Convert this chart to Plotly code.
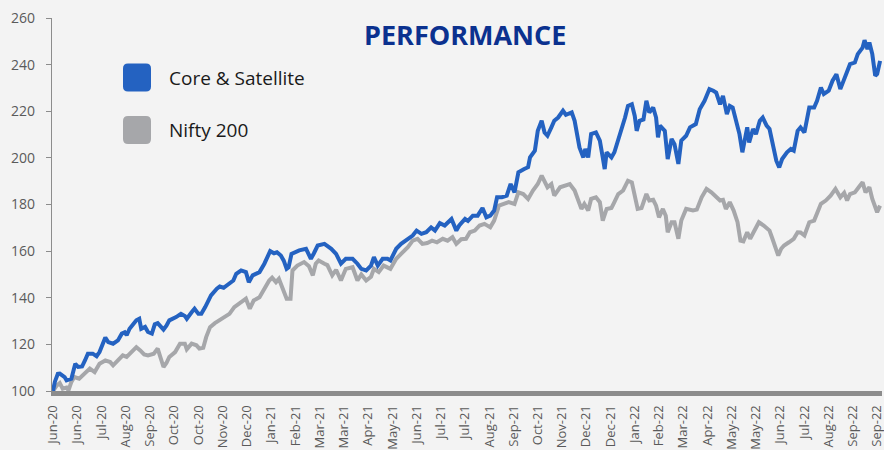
import plotly.graph_objects as go

# ---------------- data ----------------
core_dates = [
    "2020-06-01", "2020-06-03", "2020-06-06", "2020-06-08", "2020-06-13", "2020-06-15", "2020-06-20",
    "2020-06-22", "2020-06-24", "2020-06-27", "2020-07-01", "2020-07-04", "2020-07-07", "2020-07-12",
    "2020-07-16", "2020-07-19", "2020-07-23", "2020-07-25", "2020-07-28", "2020-08-02", "2020-08-07",
    "2020-08-11", "2020-08-14", "2020-08-16", "2020-08-19", "2020-08-26", "2020-08-29", "2020-08-31",
    "2020-09-04", "2020-09-07", "2020-09-11", "2020-09-14", "2020-09-17", "2020-09-23", "2020-09-26",
    "2020-09-29", "2020-10-06", "2020-10-11", "2020-10-15", "2020-10-17", "2020-10-22", "2020-10-25",
    "2020-10-29", "2020-11-01", "2020-11-05", "2020-11-08", "2020-11-11", "2020-11-17", "2020-11-20",
    "2020-11-24", "2020-11-27", "2020-12-04", "2020-12-07", "2020-12-12", "2020-12-17", "2020-12-20",
    "2020-12-24", "2020-12-31", "2021-01-05", "2021-01-08", "2021-01-11", "2021-01-15", "2021-01-18",
    "2021-01-22", "2021-01-25", "2021-01-28", "2021-01-30", "2021-02-02", "2021-02-10", "2021-02-17",
    "2021-02-22", "2021-02-25", "2021-03-01", "2021-03-08", "2021-03-15", "2021-03-20", "2021-03-25",
    "2021-03-30", "2021-04-06", "2021-04-11", "2021-04-15", "2021-04-20", "2021-04-25", "2021-04-28",
    "2021-05-02", "2021-05-07", "2021-05-12", "2021-05-15", "2021-05-21", "2021-05-26", "2021-05-31",
    "2021-06-07", "2021-06-11", "2021-06-16", "2021-06-21", "2021-06-26", "2021-06-30", "2021-07-05",
    "2021-07-10", "2021-07-17", "2021-07-22", "2021-07-25", "2021-07-31", "2021-08-03", "2021-08-08",
    "2021-08-13", "2021-08-18", "2021-08-22", "2021-08-26", "2021-08-30", "2021-09-02", "2021-09-07",
    "2021-09-12", "2021-09-16", "2021-09-20", "2021-09-24", "2021-09-30", "2021-10-04", "2021-10-06",
    "2021-10-11", "2021-10-14", "2021-10-18", "2021-10-21", "2021-10-24", "2021-10-28", "2021-10-31",
    "2021-11-04", "2021-11-09", "2021-11-12", "2021-11-18", "2021-11-21", "2021-11-23", "2021-11-26",
    "2021-11-30", "2021-12-02", "2021-12-05", "2021-12-08", "2021-12-13", "2021-12-17", "2021-12-20",
    "2021-12-22", "2021-12-24", "2021-12-29", "2022-01-01", "2022-01-05", "2022-01-08", "2022-01-12",
    "2022-01-15", "2022-01-19", "2022-01-22", "2022-01-24", "2022-01-27", "2022-01-31", "2022-02-03",
    "2022-02-06", "2022-02-10", "2022-02-13", "2022-02-15", "2022-02-17", "2022-02-22", "2022-02-25",
    "2022-03-01", "2022-03-04", "2022-03-08", "2022-03-11", "2022-03-16", "2022-03-20", "2022-03-26",
    "2022-03-30", "2022-04-04", "2022-04-09", "2022-04-13", "2022-04-16", "2022-04-20", "2022-04-23",
    "2022-04-27", "2022-04-30", "2022-05-03", "2022-05-07", "2022-05-10", "2022-05-13", "2022-05-15",
    "2022-05-18", "2022-05-20", "2022-05-24", "2022-05-27", "2022-05-31", "2022-06-03", "2022-06-07",
    "2022-06-10", "2022-06-13", "2022-06-17", "2022-06-20", "2022-06-23", "2022-06-28", "2022-07-02",
    "2022-07-05", "2022-07-09", "2022-07-12", "2022-07-16", "2022-07-21", "2022-07-26", "2022-07-29",
    "2022-08-02", "2022-08-05", "2022-08-10", "2022-08-14", "2022-08-18", "2022-08-22", "2022-08-28",
    "2022-09-01", "2022-09-06", "2022-09-09", "2022-09-14", "2022-09-16", "2022-09-19", "2022-09-21",
    "2022-09-24", "2022-09-27", "2022-09-29", "2022-10-02",
]
core_values = [
    100.0, 104.0, 107.4, 107.5, 106.0, 104.6, 105.3,
    108.9, 111.7, 110.3, 110.5, 113.1, 116.0, 116.0,
    114.9, 116.7, 121.7, 122.9, 121.0, 120.3, 121.7,
    124.6, 125.2, 123.9, 126.7, 130.3, 131.0, 126.7,
    127.5, 125.3, 124.6, 128.6, 129.1, 126.3, 128.0,
    130.3, 131.7, 133.1, 132.2, 131.0, 133.8, 135.3,
    133.1, 133.1, 136.0, 138.8, 141.0, 143.9, 144.8,
    144.3, 145.3, 147.4, 150.3, 151.7, 151.0, 146.7,
    149.6, 151.0, 154.6, 157.4, 160.0, 159.1, 159.5,
    158.1, 155.9, 152.4, 153.0, 158.8, 160.3, 161.0,
    156.7, 159.0, 162.4, 163.1, 161.0, 158.8, 154.6,
    156.7, 156.7, 154.6, 152.4, 151.7, 153.8, 157.4,
    153.8, 156.7, 156.7, 156.0, 161.0, 163.1, 164.5,
    166.7, 168.8, 167.4, 168.1, 170.2, 168.8, 172.0,
    171.0, 173.8, 168.8, 171.0, 173.8, 173.0, 175.2,
    175.2, 178.5, 174.5, 175.2, 177.4, 183.1, 183.1,
    183.8, 188.8, 185.2, 193.8, 195.2, 196.0, 200.2,
    203.1, 211.6, 215.9, 210.9, 209.5, 213.1, 215.9,
    217.3, 220.2, 218.5, 219.5, 215.9, 210.2, 204.5,
    200.2, 203.8, 200.2, 210.2, 210.9, 207.4, 200.2,
    195.2, 202.4, 200.2, 202.4, 207.4, 212.4, 217.3,
    222.3, 223.0, 218.0, 211.6, 215.9, 216.5, 224.5,
    219.5, 221.6, 217.3, 208.8, 213.8, 211.6, 199.5,
    208.1, 205.9, 197.4, 207.4, 209.5, 213.1, 214.5,
    220.9, 224.5, 229.5, 228.8, 228.0, 223.0, 226.6,
    218.8, 222.3, 221.6, 214.5, 210.2, 202.4, 206.6,
    213.1, 206.6, 212.4, 210.2, 215.9, 217.3, 213.8,
    212.4, 205.9, 198.8, 195.9, 199.5, 202.4, 203.8,
    203.1, 211.6, 213.1, 210.9, 221.6, 221.6, 224.5,
    230.2, 227.4, 228.8, 233.1, 235.9, 229.5, 236.6,
    240.2, 240.9, 244.5, 247.3, 250.5, 246.6, 249.5,
    244.5, 235.2, 236.0, 241.6,
]

nifty_dates = [
    "2020-06-01", "2020-06-05", "2020-06-08", "2020-06-11", "2020-06-15", "2020-06-17", "2020-06-20",
    "2020-06-23", "2020-06-28", "2020-07-04", "2020-07-09", "2020-07-14", "2020-07-19", "2020-07-25",
    "2020-07-30", "2020-08-02", "2020-08-07", "2020-08-12", "2020-08-16", "2020-08-21", "2020-08-26",
    "2020-08-30", "2020-09-03", "2020-09-07", "2020-09-13", "2020-09-17", "2020-09-20", "2020-09-23",
    "2020-09-26", "2020-09-29", "2020-10-05", "2020-10-10", "2020-10-15", "2020-10-17", "2020-10-22",
    "2020-10-27", "2020-10-30", "2020-11-03", "2020-11-06", "2020-11-10", "2020-11-15", "2020-11-20",
    "2020-11-25", "2020-11-30", "2020-12-05", "2020-12-10", "2020-12-17", "2020-12-21", "2020-12-25",
    "2020-12-31", "2021-01-05", "2021-01-10", "2021-01-13", "2021-01-17", "2021-01-20", "2021-01-23",
    "2021-01-28", "2021-02-01", "2021-02-03", "2021-02-08", "2021-02-15", "2021-02-20", "2021-02-24",
    "2021-02-27", "2021-03-02", "2021-03-08", "2021-03-11", "2021-03-16", "2021-03-20", "2021-03-25",
    "2021-03-30", "2021-04-06", "2021-04-11", "2021-04-15", "2021-04-20", "2021-04-25", "2021-04-28",
    "2021-05-03", "2021-05-08", "2021-05-15", "2021-05-21", "2021-05-26", "2021-06-02", "2021-06-07",
    "2021-06-12", "2021-06-17", "2021-06-22", "2021-06-27", "2021-07-02", "2021-07-08", "2021-07-13",
    "2021-07-18", "2021-07-22", "2021-07-27", "2021-08-01", "2021-08-05", "2021-08-10", "2021-08-15",
    "2021-08-20", "2021-08-26", "2021-08-30", "2021-09-04", "2021-09-09", "2021-09-14", "2021-09-20",
    "2021-09-24", "2021-09-29", "2021-10-04", "2021-10-09", "2021-10-14", "2021-10-18", "2021-10-21",
    "2021-10-24", "2021-10-28", "2021-10-31", "2021-11-06", "2021-11-11", "2021-11-16", "2021-11-21",
    "2021-11-24", "2021-11-28", "2021-12-01", "2021-12-05", "2021-12-08", "2021-12-13", "2021-12-17",
    "2021-12-20", "2021-12-24", "2021-12-29", "2022-01-01", "2022-01-05", "2022-01-10", "2022-01-15",
    "2022-01-19", "2022-01-22", "2022-01-25", "2022-01-29", "2022-02-03", "2022-02-06", "2022-02-10",
    "2022-02-13", "2022-02-16", "2022-02-20", "2022-02-23", "2022-02-25", "2022-03-01", "2022-03-04",
    "2022-03-08", "2022-03-11", "2022-03-16", "2022-03-23", "2022-03-27", "2022-04-01", "2022-04-06",
    "2022-04-11", "2022-04-14", "2022-04-20", "2022-04-23", "2022-04-26", "2022-04-30", "2022-05-04",
    "2022-05-08", "2022-05-11", "2022-05-14", "2022-05-18", "2022-05-21", "2022-05-25", "2022-05-30",
    "2022-06-04", "2022-06-10", "2022-06-13", "2022-06-17", "2022-06-19", "2022-06-22", "2022-06-25",
    "2022-06-30", "2022-07-05", "2022-07-09", "2022-07-12", "2022-07-16", "2022-07-21", "2022-07-26",
    "2022-07-29", "2022-08-02", "2022-08-07", "2022-08-12", "2022-08-17", "2022-08-22", "2022-08-26",
    "2022-08-29", "2022-09-01", "2022-09-06", "2022-09-10", "2022-09-14", "2022-09-17", "2022-09-21",
    "2022-09-24", "2022-09-27", "2022-09-29", "2022-10-02",
]
nifty_values = [
    100.0, 102.4, 103.4, 101.0, 101.5, 100.3, 103.9,
    106.0, 105.3, 107.5, 109.6, 108.1, 111.7, 113.1,
    112.4, 111.0, 113.1, 115.3, 114.6, 116.7, 118.8,
    117.4, 115.7, 115.3, 116.0, 118.2, 114.6, 110.3,
    112.0, 114.6, 116.7, 120.3, 120.3, 117.9, 120.3,
    119.6, 118.2, 118.5, 123.1, 127.4, 129.1, 130.3,
    131.7, 133.1, 136.0, 137.4, 139.6, 135.3, 138.8,
    140.2, 143.9, 147.4, 148.6, 146.7, 148.1, 145.3,
    139.6, 139.6, 151.7, 153.8, 155.3, 153.5, 149.6,
    154.6, 156.0, 154.6, 154.0, 149.6, 152.0, 147.4,
    152.4, 153.1, 147.4, 150.0, 147.4, 149.0, 152.4,
    151.0, 153.8, 152.4, 156.7, 158.8, 161.7, 164.5,
    165.3, 163.1, 163.5, 164.5, 163.8, 165.3, 164.5,
    166.0, 163.1, 165.1, 165.3, 168.1, 168.8, 171.0,
    171.7, 170.2, 173.1, 179.5, 180.2, 181.0, 180.2,
    185.2, 184.5, 182.4, 186.0, 188.8, 192.4, 190.2,
    187.4, 188.8, 183.8, 187.4, 188.1, 188.8, 186.0,
    182.4, 178.1, 180.2, 177.4, 182.4, 183.1, 181.0,
    173.1, 178.1, 178.5, 181.0, 184.5, 186.0, 190.2,
    189.5, 184.5, 178.1, 178.5, 184.5, 181.7, 182.0,
    179.5, 174.5, 178.1, 175.2, 168.1, 172.4, 172.4,
    165.3, 173.1, 178.1, 177.4, 177.8, 183.1, 186.7,
    185.2, 184.0, 181.7, 182.0, 178.1, 181.0, 177.4,
    172.4, 164.5, 164.2, 168.1, 165.3, 168.8, 172.4,
    171.0, 168.8, 165.3, 160.3, 158.1, 161.0, 162.4,
    163.8, 165.3, 168.1, 168.0, 166.7, 172.4, 173.1,
    176.7, 180.3, 181.7, 183.8, 186.7, 183.1, 185.0,
    181.7, 184.5, 185.2, 187.4, 189.5, 185.2, 187.4,
    182.4, 178.1, 176.7, 179.5,
]

# x-axis tick positions and their labels (as printed in the reference)
tick_dates = [
    "2020-06-01", "2020-06-26", "2020-07-21", "2020-08-15", "2020-09-09", "2020-10-04", "2020-10-29",
    "2020-11-23", "2020-12-18", "2021-01-12", "2021-02-06", "2021-03-03", "2021-03-28", "2021-04-22",
    "2021-05-17", "2021-06-11", "2021-07-06", "2021-07-31", "2021-08-25", "2021-09-19", "2021-10-14",
    "2021-11-08", "2021-12-03", "2021-12-28", "2022-01-22", "2022-02-16", "2022-03-13", "2022-04-07",
    "2022-05-02", "2022-05-27", "2022-06-21", "2022-07-16", "2022-08-10", "2022-09-04", "2022-09-29",
]
tick_labels = [
    "Jun-20", "Jun-20", "Jul-20", "Aug-20", "Sep-20", "Oct-20", "Oct-20",
    "Nov-20", "Dec-20", "Jan-21", "Feb-21", "Mar-21", "Mar-21", "Apr-21",
    "May-21", "Jun-21", "Jul-21", "Jul-21", "Aug-21", "Sep-21", "Oct-21",
    "Nov-21", "Dec-21", "Dec-21", "Jan-22", "Feb-22", "Mar-22", "Apr-22",
    "May-22", "May-22", "Jun-22", "Jul-22", "Aug-22", "Sep-22", "Sep-22",
]

series_names = ["Core & Satellite", "Nifty 200"]
y_ticks = [100, 120, 140, 160, 180, 200, 220, 240, 260]
title_text = "PERFORMANCE"

# ---------------- styling ----------------
BLUE = "#2462c1"
GREY = "#a6a7aa"
BG = "#f3f3f3"
AXIS = "#8c8c8c"
TICKTXT = "#5a5a5a"

W, H = 884, 450
ML, MR, MT, MB = 52, 2, 18, 59
PW, PH = W - ML - MR, H - MT - MB

fig = go.Figure()
fig.add_trace(go.Scatter(x=nifty_dates, y=nifty_values, mode="lines", name=series_names[1],
                         line=dict(color=GREY, width=4), showlegend=False, cliponaxis=False))
fig.add_trace(go.Scatter(x=core_dates, y=core_values, mode="lines", name=series_names[0],
                         line=dict(color=BLUE, width=4), showlegend=False, cliponaxis=False))

# legend markers (rounded squares) and labels
sq = "M -9,-14 L 9,-14 Q 14,-14 14,-9 L 14,9 Q 14,14 9,14 L -9,14 Q -14,14 -14,9 L -14,-9 Q -14,-14 -9,-14 Z"
legend_rows = [(series_names[0], BLUE, 77.5), (series_names[1], GREY, 130)]
for name, col, ypx in legend_rows:
    yp = (H - MB - ypx) / PH
    fig.add_shape(type="path", path=sq, xref="paper", yref="paper",
                  xsizemode="pixel", ysizemode="pixel",
                  xanchor=(137 - ML) / PW, yanchor=yp,
                  fillcolor=col, line=dict(width=0))
    fig.add_annotation(text=name, xref="paper", yref="paper", x=(167 - ML) / PW, y=yp,
                       xanchor="left", yanchor="middle", showarrow=False,
                       font=dict(family="Open Sans", size=19, color="#1a1a1a"))

fig.add_annotation(text="<b>" + title_text + "</b>", xref="paper", yref="paper",
                   x=(465 - ML) / PW, y=(H - MB - 34.5) / PH, xanchor="center", yanchor="middle",
                   showarrow=False, font=dict(family="Open Sans", size=27, color="#0b318f"))

fig.update_layout(
    width=W, height=H, autosize=False,
    margin=dict(l=ML, r=MR, t=MT, b=MB, pad=0),
    paper_bgcolor=BG, plot_bgcolor=BG,
    showlegend=False,
    xaxis=dict(type="date", range=["2020-05-31", "2022-10-04"], automargin=False,
               tickvals=tick_dates, ticktext=tick_labels,
               tickangle=-90, showgrid=False, zeroline=False,
               showline=True, linecolor=AXIS, linewidth=5, ticks="",
               ticklabelstandoff=4, ticklabeloverflow="allow",
               tickfont=dict(family="Open Sans", size=13, color=TICKTXT)),
    yaxis=dict(range=[100, 260], tickvals=y_ticks, showgrid=False, zeroline=False, automargin=False,
               showline=True, linecolor=AXIS, linewidth=1.3,
               ticks="outside", ticklen=5, tickcolor=AXIS, tickwidth=1.3,
               ticklabelstandoff=8,
               tickfont=dict(family="Open Sans", size=14, color=TICKTXT)),
)

fig.write_html("out.html", config={"displayModeBar": False})

# remove the browser's default page margin so the figure sits at the window origin
with open("out.html", "r", encoding="utf-8") as f:
    html = f.read()
html = html.replace("<head>", "<head><style>html,body{margin:0;padding:0;background:#f3f3f3;overflow:hidden}</style>", 1)
with open("out.html", "w", encoding="utf-8") as f:
    f.write(html)
